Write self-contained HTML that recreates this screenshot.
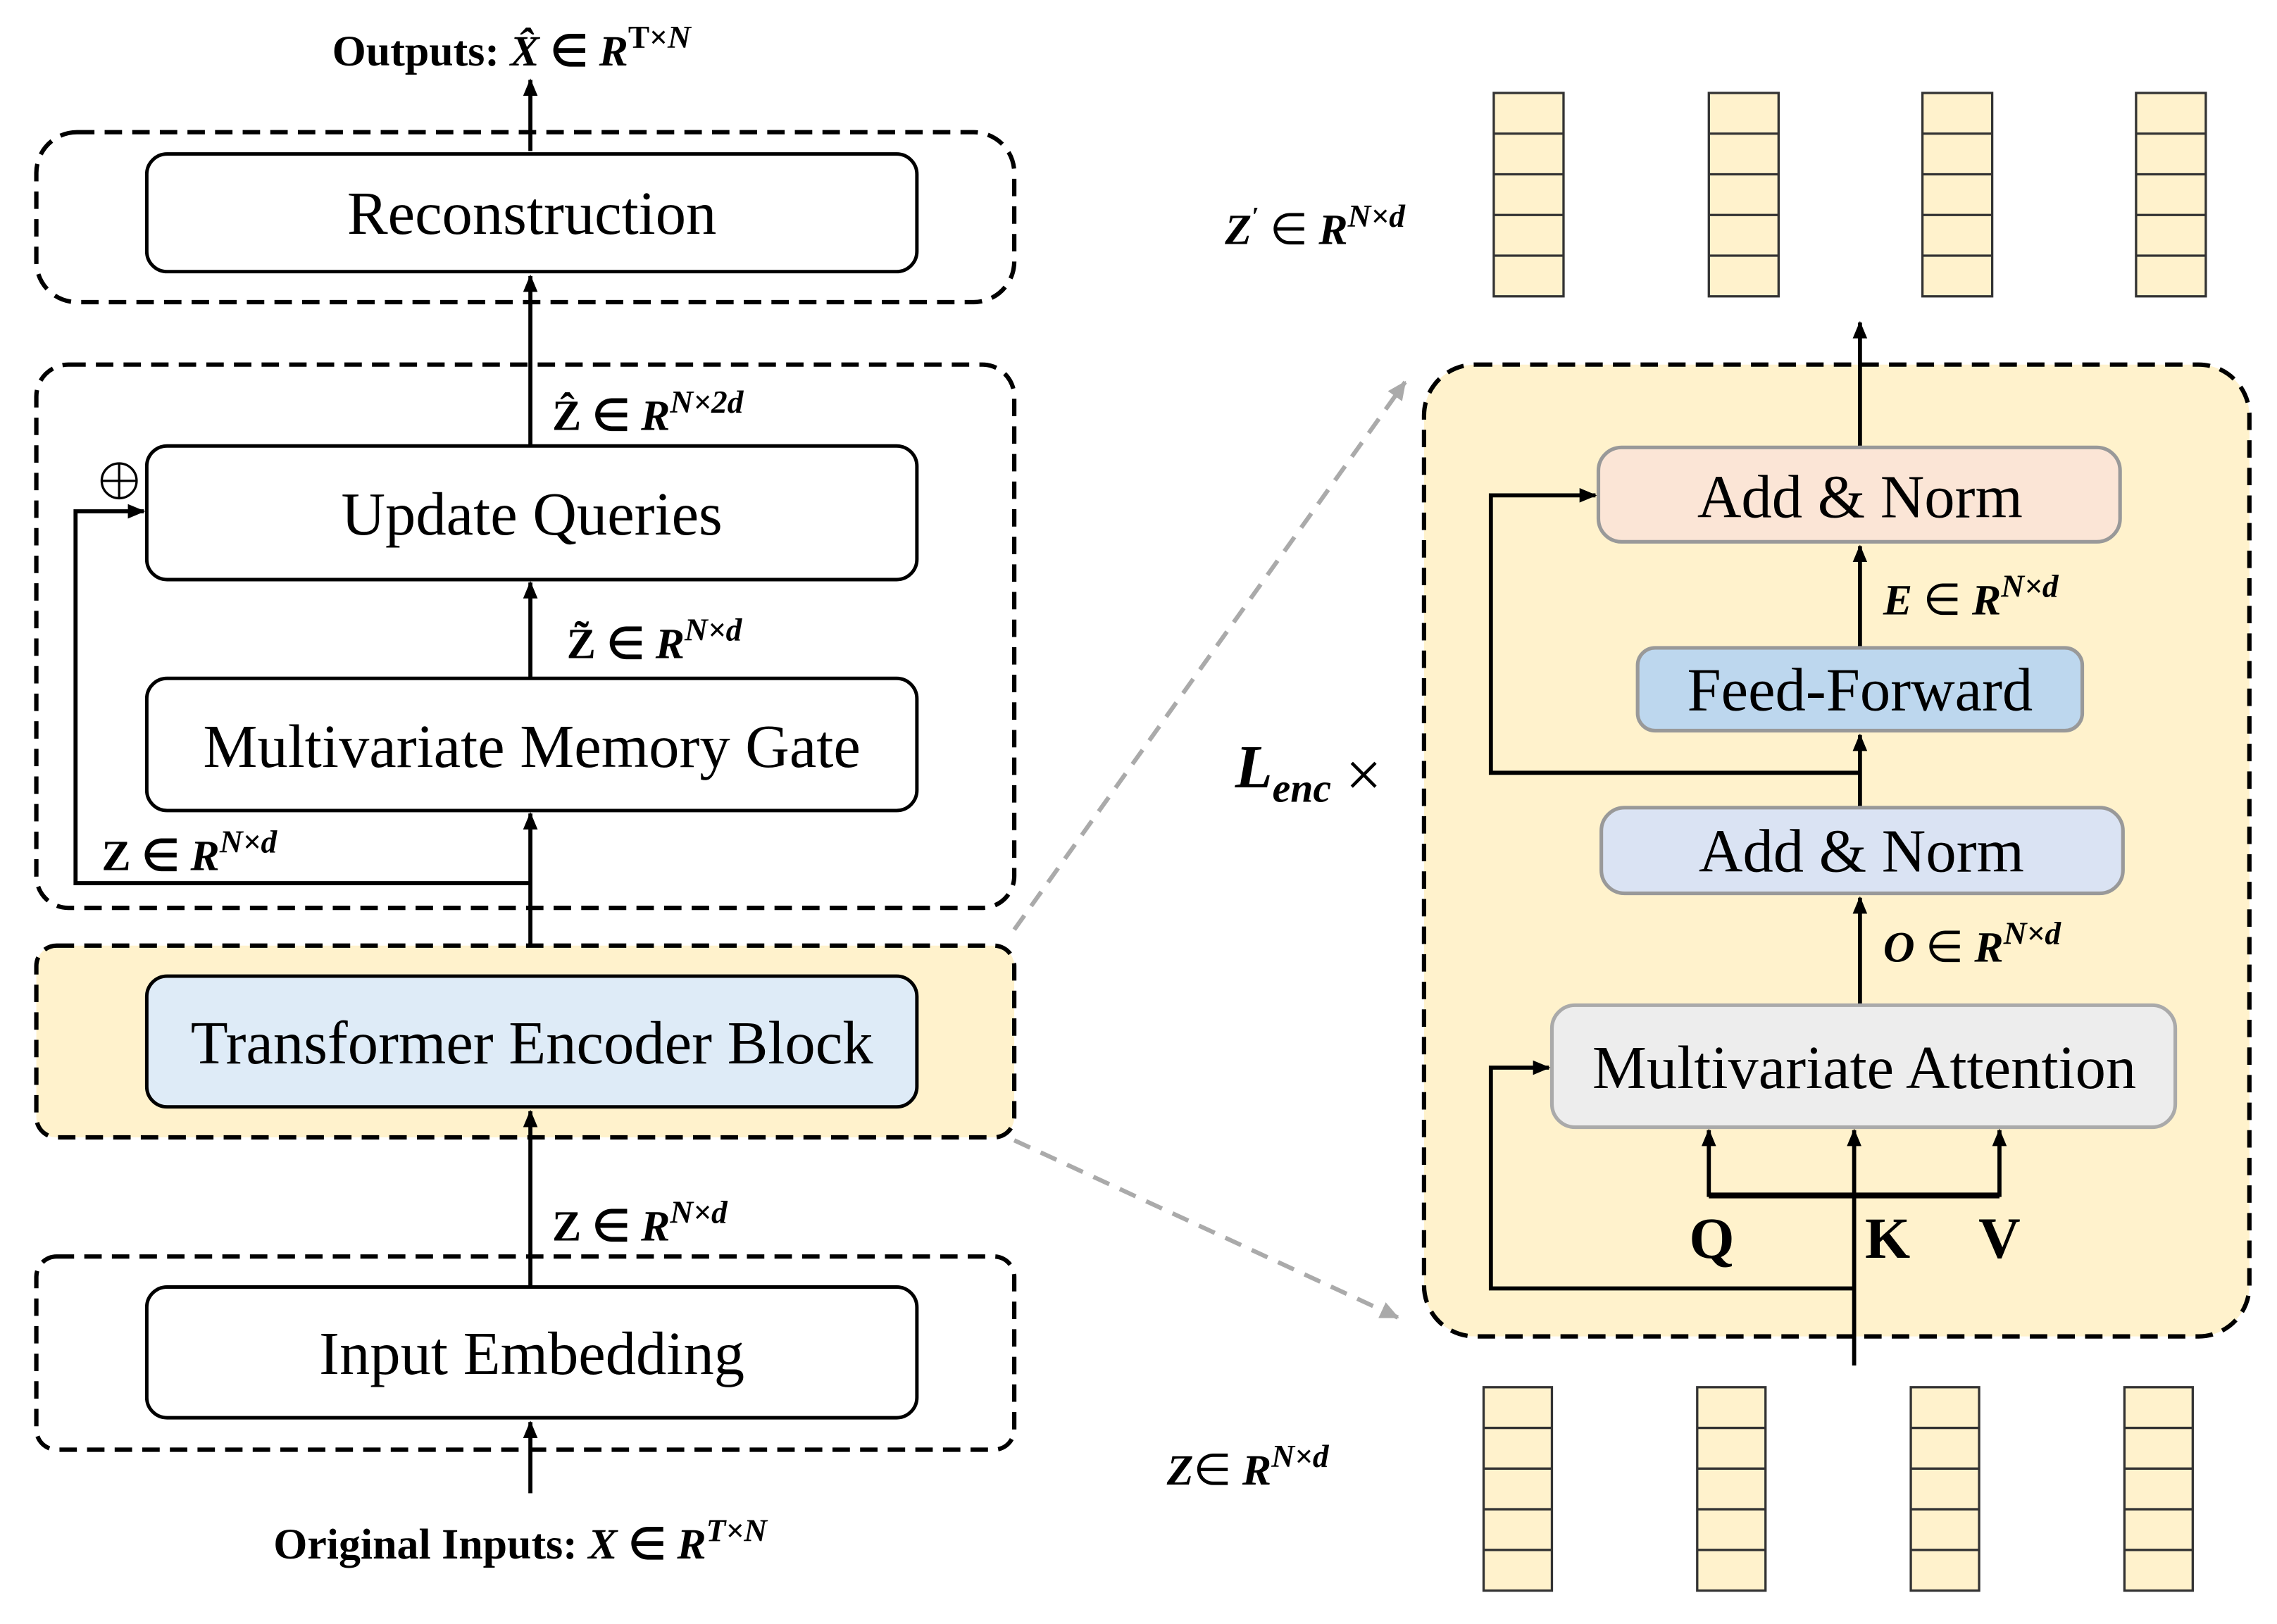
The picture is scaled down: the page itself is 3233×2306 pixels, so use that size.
<!DOCTYPE html>
<html><head><meta charset="utf-8"><style>
html,body{margin:0;padding:0;background:#fff;}
svg{display:block;}
text{font-family:"Liberation Serif",serif;fill:#000;}
</style></head><body>
<svg width="3233" height="2306" viewBox="0 0 1567 1118" preserveAspectRatio="none" xmlns="http://www.w3.org/2000/svg">
<defs>
<marker id="ah" markerWidth="12" markerHeight="12" refX="11" refY="6" orient="auto" markerUnits="userSpaceOnUse"><path d="M0,1 L12,6 L0,11 Z" fill="#000"/></marker>
<marker id="ag" markerWidth="14" markerHeight="14" refX="12" refY="7" orient="auto" markerUnits="userSpaceOnUse"><path d="M0,1 L13,7 L0,13 Z" fill="#aaa"/></marker>
</defs>

<!-- LEFT -->
<text x="352" y="45" font-size="30" font-weight="bold" text-anchor="middle">Outputs: <tspan font-style="italic">X̂</tspan> ∈ <tspan font-style="italic">R</tspan><tspan font-size="22" dy="-12">T×<tspan font-style="italic">N</tspan></tspan></text>
<line x1="365" y1="104" x2="365" y2="55" stroke="#000" stroke-width="2.8" marker-end="url(#ah)"/>

<rect x="25" y="91" width="673" height="117" rx="28" fill="none" stroke="#000" stroke-width="3" stroke-dasharray="12,7"/>
<rect x="101" y="106" width="530" height="81" rx="14" fill="#fff" stroke="#000" stroke-width="2.4"/>
<text x="366" y="161" font-size="42" text-anchor="middle">Reconstruction</text>
<line x1="365" y1="306" x2="365" y2="190" stroke="#000" stroke-width="2.8" marker-end="url(#ah)"/>

<rect x="25" y="251" width="673" height="374" rx="22" fill="none" stroke="#000" stroke-width="3" stroke-dasharray="12,7"/>
<text x="380" y="296" font-size="30" font-weight="bold"><tspan>Ẑ</tspan>  ∈ <tspan font-style="italic">R</tspan><tspan font-size="22" dy="-12" font-style="italic">N×2d</tspan></text>
<rect x="101" y="307" width="530" height="92" rx="14" fill="#fff" stroke="#000" stroke-width="2.4"/>
<text x="366" y="368" font-size="42" text-anchor="middle">Update Queries</text>
<circle cx="82" cy="331" r="12" fill="none" stroke="#000" stroke-width="1.6"/>
<line x1="70" y1="331" x2="94" y2="331" stroke="#000" stroke-width="1.6"/>
<line x1="82" y1="319" x2="82" y2="343" stroke="#000" stroke-width="1.6"/>
<line x1="365" y1="467" x2="365" y2="401" stroke="#000" stroke-width="2.8" marker-end="url(#ah)"/>
<text x="390" y="453" font-size="30" font-weight="bold"><tspan>Z̃</tspan>  ∈ <tspan font-style="italic">R</tspan><tspan font-size="22" dy="-12" font-style="italic">N×d</tspan></text>
<rect x="101" y="467" width="530" height="91" rx="14" fill="#fff" stroke="#000" stroke-width="2.4"/>
<text x="366" y="528" font-size="42" text-anchor="middle">Multivariate Memory Gate</text>
<text x="70" y="599" font-size="30" font-weight="bold">Z  ∈ <tspan font-style="italic">R</tspan><tspan font-size="22" dy="-12" font-style="italic">N×d</tspan></text>
<line x1="365" y1="672" x2="365" y2="560" stroke="#000" stroke-width="2.8" marker-end="url(#ah)"/>
<polyline points="365,608 52,608 52,352 99,352" fill="none" stroke="#000" stroke-width="2.8" marker-end="url(#ah)"/>

<rect x="25" y="651" width="673" height="132" rx="14" fill="#fff2cc" stroke="#000" stroke-width="3" stroke-dasharray="12,7"/>
<rect x="101" y="672" width="530" height="90" rx="14" fill="#deebf7" stroke="#000" stroke-width="2.4"/>
<text x="366" y="732" font-size="42" text-anchor="middle">Transformer Encoder Block</text>
<line x1="365" y1="886" x2="365" y2="765" stroke="#000" stroke-width="2.8" marker-end="url(#ah)"/>
<text x="380" y="854" font-size="30" font-weight="bold">Z  ∈ <tspan font-style="italic">R</tspan><tspan font-size="22" dy="-12" font-style="italic">N×d</tspan></text>

<rect x="25" y="865" width="673" height="133" rx="14" fill="none" stroke="#000" stroke-width="3" stroke-dasharray="12,7"/>
<rect x="101" y="886" width="530" height="90" rx="14" fill="#fff" stroke="#000" stroke-width="2.4"/>
<text x="366" y="946" font-size="42" text-anchor="middle">Input Embedding</text>
<line x1="365" y1="1028" x2="365" y2="979" stroke="#000" stroke-width="2.8" marker-end="url(#ah)"/>
<text x="358" y="1073" font-size="30" font-weight="bold" text-anchor="middle">Original Inputs: <tspan font-style="italic">X</tspan>  ∈ <tspan font-style="italic">R</tspan><tspan font-size="22" dy="-12" font-style="italic">T×N</tspan></text>

<!-- gray dashed zoom lines -->
<line x1="698" y1="640" x2="967" y2="263" stroke="#aaa" stroke-width="3" stroke-dasharray="12,8" marker-end="url(#ag)"/>
<line x1="698" y1="785" x2="962" y2="907" stroke="#aaa" stroke-width="3" stroke-dasharray="12,8" marker-end="url(#ag)"/>

<!-- RIGHT -->
<text x="843" y="168" font-size="30" font-weight="bold" font-style="italic">Z<tspan font-size="18" dy="-13">′</tspan><tspan dy="13" font-style="normal" font-weight="normal"> ∈ </tspan><tspan>R</tspan><tspan font-size="22" dy="-12">N×d</tspan></text>
<g fill="#fff2cc" stroke="#333" stroke-width="1.6">
<rect x="1028" y="64" width="48" height="140"/><rect x="1176" y="64" width="48" height="140"/><rect x="1323" y="64" width="48" height="140"/><rect x="1470" y="64" width="48" height="140"/>
<rect x="1021" y="955" width="47" height="140"/><rect x="1168" y="955" width="47" height="140"/><rect x="1315" y="955" width="47" height="140"/><rect x="1462" y="955" width="47" height="140"/>
</g>
<g stroke="#333" stroke-width="1.6">
<path d="M1028,92H1076M1028,120H1076M1028,148H1076M1028,176H1076 M1176,92H1224M1176,120H1224M1176,148H1224M1176,176H1224 M1323,92H1371M1323,120H1371M1323,148H1371M1323,176H1371 M1470,92H1518M1470,120H1518M1470,148H1518M1470,176H1518"/>
<path d="M1021,983H1068M1021,1011H1068M1021,1039H1068M1021,1067H1068 M1168,983H1215M1168,1011H1215M1168,1039H1215M1168,1067H1215 M1315,983H1362M1315,1011H1362M1315,1039H1362M1315,1067H1362 M1462,983H1509M1462,1011H1509M1462,1039H1509M1462,1067H1509"/>
</g>
<text x="803" y="1022" font-size="30" font-weight="bold" font-style="italic">Z<tspan font-style="normal" font-weight="normal">∈ </tspan>R<tspan font-size="22" dy="-12">N×d</tspan></text>

<rect x="980" y="251" width="568" height="669" rx="35" fill="#fff2cc" stroke="#000" stroke-width="3" stroke-dasharray="12,7"/>
<line x1="1280" y1="308" x2="1280" y2="222" stroke="#000" stroke-width="2.8" marker-end="url(#ah)"/>
<text x="850" y="542" font-size="42" font-weight="bold" font-style="italic">L<tspan font-size="28" dy="10">enc</tspan></text>
<text x="926" y="548" font-size="44">×</text>

<rect x="1100" y="308" width="359" height="65" rx="16" fill="#fbe5d6" stroke="#999" stroke-width="2.5"/>
<text x="1280" y="356" font-size="42" text-anchor="middle">Add &amp; Norm</text>
<line x1="1280" y1="446" x2="1280" y2="376" stroke="#000" stroke-width="2.8" marker-end="url(#ah)"/>
<text x="1296" y="423" font-size="30" font-weight="bold" font-style="italic">E<tspan font-style="normal" font-weight="normal">  ∈ </tspan>R<tspan font-size="22" dy="-12">N×d</tspan></text>
<rect x="1127" y="446" width="306" height="57" rx="12" fill="#bdd7ee" stroke="#999" stroke-width="2.5"/>
<text x="1280" y="489" font-size="42" text-anchor="middle">Feed-Forward</text>
<line x1="1280" y1="556" x2="1280" y2="506" stroke="#000" stroke-width="2.8" marker-end="url(#ah)"/>
<polyline points="1280,532 1026,532 1026,341 1098,341" fill="none" stroke="#000" stroke-width="2.8" marker-end="url(#ah)"/>
<rect x="1102" y="556" width="359" height="59" rx="16" fill="#dae3f3" stroke="#999" stroke-width="2.5"/>
<text x="1281" y="600" font-size="42" text-anchor="middle">Add &amp; Norm</text>
<line x1="1280" y1="692" x2="1280" y2="618" stroke="#000" stroke-width="2.8" marker-end="url(#ah)"/>
<text x="1296" y="662" font-size="30" font-weight="bold" font-style="italic">O<tspan font-style="normal" font-weight="normal">  ∈ </tspan>R<tspan font-size="22" dy="-12">N×d</tspan></text>
<rect x="1068" y="692" width="429" height="84" rx="16" fill="#ededed" stroke="#aaa" stroke-width="2.5"/>
<text x="1283" y="749" font-size="42" text-anchor="middle">Multivariate Attention</text>
<line x1="1176" y1="823" x2="1376" y2="823" stroke="#000" stroke-width="4"/>
<line x1="1176" y1="824" x2="1176" y2="778" stroke="#000" stroke-width="2.8" marker-end="url(#ah)"/>
<line x1="1376" y1="824" x2="1376" y2="778" stroke="#000" stroke-width="2.8" marker-end="url(#ah)"/>
<line x1="1276" y1="940" x2="1276" y2="778" stroke="#000" stroke-width="2.8" marker-end="url(#ah)"/>
<polyline points="1276,887 1026,887 1026,735 1066,735" fill="none" stroke="#000" stroke-width="2.8" marker-end="url(#ah)"/>
<text x="1178" y="866" font-size="40" font-weight="bold" text-anchor="middle">Q</text>
<text x="1299" y="866" font-size="40" font-weight="bold" text-anchor="middle">K</text>
<text x="1376" y="866" font-size="40" font-weight="bold" text-anchor="middle">V</text>
</svg>
</body></html>
